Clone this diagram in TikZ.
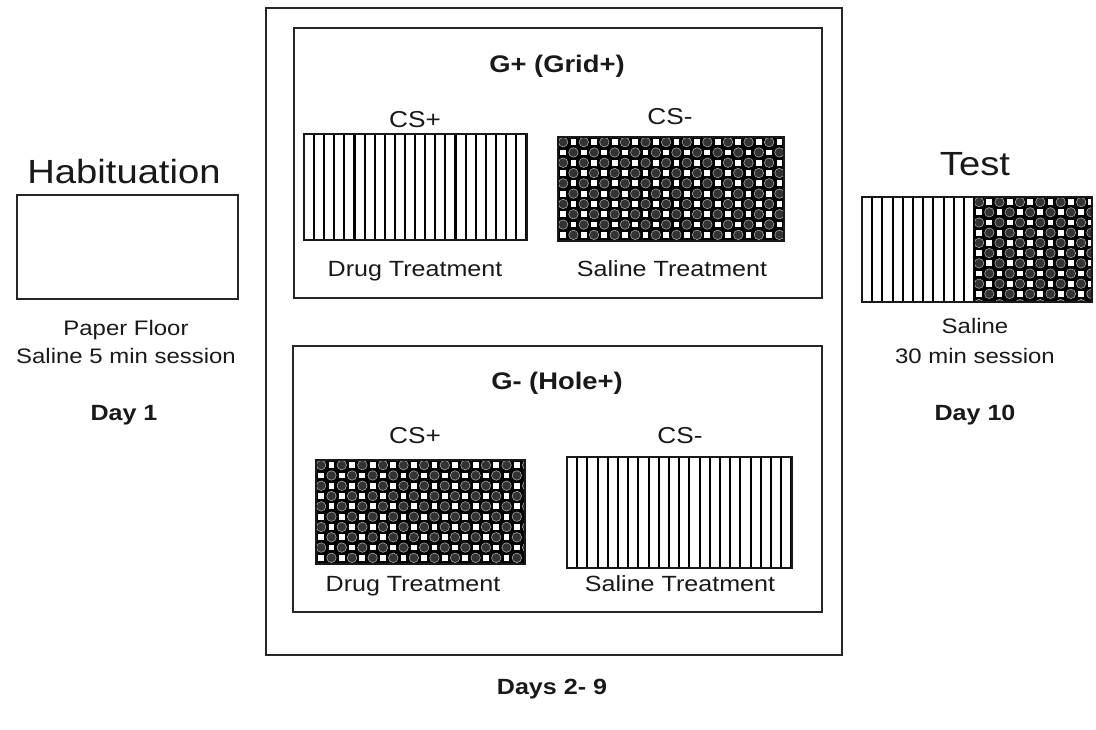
\documentclass[tikz,border=0pt]{standalone}
\usepackage{fontspec}
\setmainfont{Liberation Sans}[FakeStretch=1.14]
\newcommand{\fsz}[1]{\fontsize{#1}{#1}\selectfont}
\tikzset{
  lbl/.style={anchor=base, inner sep=0pt, text=black!90},
  bigtxt/.style={lbl, font=\fsz{33.5}},
  smalltxt/.style={lbl, font=\fsz{21}},
  midtxt/.style={lbl, font=\fsz{22}},
  cstxt/.style={lbl, font=\fsz{23}},
  daytxt/.style={lbl, font=\fsz{22}\bfseries},
  grouptxt/.style={lbl, font=\fsz{24}\bfseries},
  frame/.style={draw=black!85, line width=1.5pt},
  floorframe/.style={draw=black!90, line width=2pt},
}
% rectangle node: name, x1, y1, x2, y2, style
\newcommand{\rectnode}[6]{\node[#6, anchor=north west, inner sep=0pt, outer sep=0pt,
  minimum width={(#4-#2)*1pt}, minimum height={(#5-#3)*1pt}] (#1) at (#2,#3) {};}
% vertical grid bars: x1 y1 x2 y2 pitch
\newcommand{\gridfill}[5]{%
  \begin{scope}
    \clip (#1,#2) rectangle (#3,#4);
    \fill[white] (#1,#2) rectangle (#3,#4);
    \pgfmathtruncatemacro\nlines{(#3-#1)/#5}
    \foreach \k in {1,...,\nlines}
      \draw[line width=2.1pt, black] ({#1+\k*#5},#2) -- ({#1+\k*#5},#4);
  \end{scope}}
% hole floor: x1 y1 x2 y2 pitch
\newcommand{\holefill}[5]{%
  \begin{scope}
    \clip (#1,#2) rectangle (#3,#4);
    \fill[black] (#1,#2) rectangle (#3,#4);
    \pgfmathtruncatemacro\nx{ceil((#3-#1)/#5)}
    \pgfmathtruncatemacro\ny{ceil((#4-#2)/#5)}
    \foreach \i in {0,...,\nx}{
      \foreach \j in {0,...,\ny}{
        \pgfmathtruncatemacro\parity{mod(\i+\j,2)}
        \ifnum\parity=0
          \filldraw[fill=black!80, draw=black!35, line width=0.6pt]
            ({#1+(\i+0.5)*#5},{#2+(\j+0.5)*#5}) circle ({0.46*#5});
        \else
          \fill[white] ({#1+(\i+0.5)*#5-0.28*#5},{#2+(\j+0.5)*#5-0.28*#5})
            rectangle ++({0.56*#5},{0.56*#5});
        \fi
      }}
  \end{scope}}
\begin{document}
\begin{tikzpicture}[x=1pt, y=-1pt]
\useasboundingbox[fill=white] (0,0) rectangle (1096,730);

% ---------- Habituation ----------
\node[bigtxt] (habT) at (124,184) {Habituation};
\rectnode{hab}{17}{195}{238}{299}{frame}
\node[smalltxt] (habA) at (126,335) {Paper Floor};
\node[smalltxt] (habB) at (126,363) {Saline 5 min session};
\node[daytxt] (day1) at (124,420) {Day 1};

% ---------- Conditioning ----------
\rectnode{outer}{266}{8}{842}{655}{frame}
\rectnode{gplus}{294}{28}{822}{298}{frame}
\rectnode{gminus}{293}{346}{822}{612}{frame}

\node[grouptxt] (gpT) at (557,73) {G+ (Grid+)};
\node[cstxt] (gpCSp) at (415,128) {CS+};
\node[cstxt] (gpCSm) at (670,125) {CS-};
\gridfill{304}{134}{527}{240}{10.1}
\rectnode{gpGrid}{304}{134}{527}{240}{floorframe}
\holefill{558}{137}{784}{241}{10.3}
\rectnode{gpHole}{558}{137}{784}{241}{floorframe}
\node[midtxt] (gpDrug) at (415,277) {Drug Treatment};
\node[midtxt] (gpSal) at (672,277) {Saline Treatment};

\node[grouptxt] (gmT) at (557,389) {G- (Hole+)};
\node[cstxt] (gmCSp) at (415,443) {CS+};
\node[cstxt] (gmCSm) at (680,443) {CS-};
\holefill{316}{460}{525}{564}{10.3}
\rectnode{gmHole}{316}{460}{525}{564}{floorframe}
\gridfill{567}{457}{792}{568}{10.2}
\rectnode{gmGrid}{567}{457}{792}{568}{floorframe}
\node[midtxt] (gmDrug) at (413,591) {Drug Treatment};
\node[midtxt] (gmSal) at (680,591) {Saline Treatment};

\node[daytxt] (days) at (552,694) {Days 2- 9};

% ---------- Test ----------
\node[bigtxt] (testT) at (975,176) {Test};
\gridfill{862}{197}{974}{302}{10.2}
\holefill{974}{197}{1092}{302}{10.2}
\rectnode{test}{862}{197}{1092}{302}{floorframe}
\draw[line width=1.8pt, black] (test.north west) ++(112,0) coordinate (tdiv) -- (tdiv |- test.south);
\node[smalltxt] (testA) at (975,334) {Saline};
\node[smalltxt] (testB) at (975,363) {30 min session};
\node[daytxt] (day10) at (975,420) {Day 10};
\end{tikzpicture}
\end{document}
